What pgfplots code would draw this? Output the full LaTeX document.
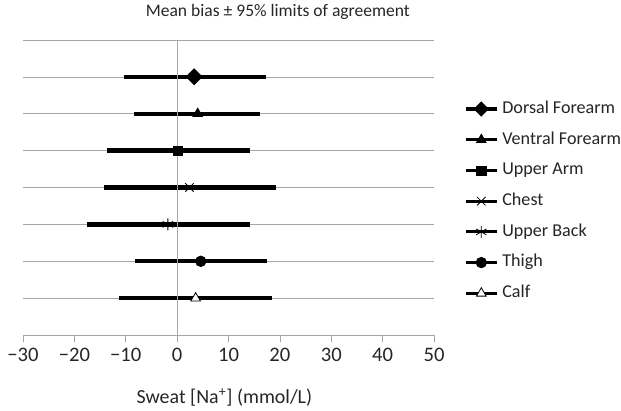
\documentclass[border=0pt]{standalone}
\usepackage{pgfplots}
\pgfplotsset{compat=1.18}
\usepackage{fontspec}
\setmainfont{Carlito}
\definecolor{gridgray}{HTML}{A6A6A6}
\definecolor{txt}{HTML}{262626}

\begin{document}
\begin{tikzpicture}
\begin{axis}[
  scale only axis,
  width=309pt, height=222pt,
  xmin=-30, xmax=50, ymin=0, ymax=8,
  axis x line=bottom,
  axis y line=left,
  x axis line style={-, gridgray},
  y axis line style={draw=none},
  xtick={-30,-20,...,50},
  xticklabels={−30,−20,−10,0,10,20,30,40,50},
  ytick={1,...,8}, yticklabels={},
  ytick style={draw=none},
  xtick style={gridgray, thin},
  tick align=outside,
  major tick length=5pt,
  ymajorgrids,
  grid style={gridgray, thin},
  tick label style={font=\fontsize{15.5}{18}\selectfont, text=txt},
  xticklabel style={yshift=-1pt},
  title={Mean bias ± 95\% limits of agreement},
  title style={font=\fontsize{13.2}{16}\selectfont, text=txt,
    at={(0.62,1.067)}, anchor=center},
  xlabel={Sweat [Na\textsuperscript{+}] (mmol/L)},
  xlabel style={font=\fontsize{15}{18}\selectfont, text=txt,
    at={(0.49,-0.21)}, anchor=center},
  legend style={at={(1.073,0.795)}, anchor=north west, draw=none,
    font=\fontsize{13.6}{16}\selectfont, text=txt, row sep=10.6pt,
    inner sep=0pt, column sep=3pt,
    nodes={text height=9.5pt, text depth=3pt, inner sep=0pt},
    cells={anchor=west}},
  legend image code/.code={\draw[mark repeat=2,mark phase=2,line width=2.3pt]
    plot coordinates {(0cm,0cm)(0.41cm,0cm)(0.82cm,0cm)};},
  every axis plot/.append style={black, line width=3.2pt, mark indices={2},
    mark options={solid, fill=black, line width=0.5pt}},
  clip=false,
]
\addplot[mark=square*, mark size=2.9pt, mark options={rotate=45}] coordinates {(-10.4,7) (3.3,7) (17.3,7)};
\addlegendentry{Dorsal Forearm}
\addplot[mark=triangle*, mark size=4.2pt] coordinates {(-8.4,6) (4.0,6) (16.2,6)};
\addlegendentry{Ventral Forearm}
\addplot[mark=square*, mark size=3.4pt] coordinates {(-13.6,5) (0.2,5) (14.1,5)};
\addlegendentry{Upper Arm}
\addplot[mark=x, mark size=4.5pt, mark options={line width=0.6pt}] coordinates {(-14.3,4) (2.4,4) (19.2,4)};
\addlegendentry{Chest}
\addplot[mark=asterisk, mark size=4.5pt, mark options={line width=0.6pt}] coordinates {(-17.5,3) (-1.8,3) (14.1,3)};
\addlegendentry{Upper Back}
\addplot[mark=*, mark size=4pt] coordinates {(-8.2,2) (4.6,2) (17.4,2)};
\addlegendentry{Thigh}
\addplot[mark=triangle*, mark size=4.2pt, mark options={fill=white, line width=0.6pt}] coordinates {(-11.3,1) (3.6,1) (18.4,1)};
\addlegendentry{Calf}
\addplot[gridgray, line width=0.4pt, mark=none, forget plot] coordinates {(0,0) (0,8)};
\coordinate (bl) at (rel axis cs:-0.056,-0.254);
\coordinate (tr) at (rel axis cs:1.455,1.135);
\end{axis}
\pgfresetboundingbox
\path (bl) rectangle (tr);
\end{tikzpicture}
\end{document}
